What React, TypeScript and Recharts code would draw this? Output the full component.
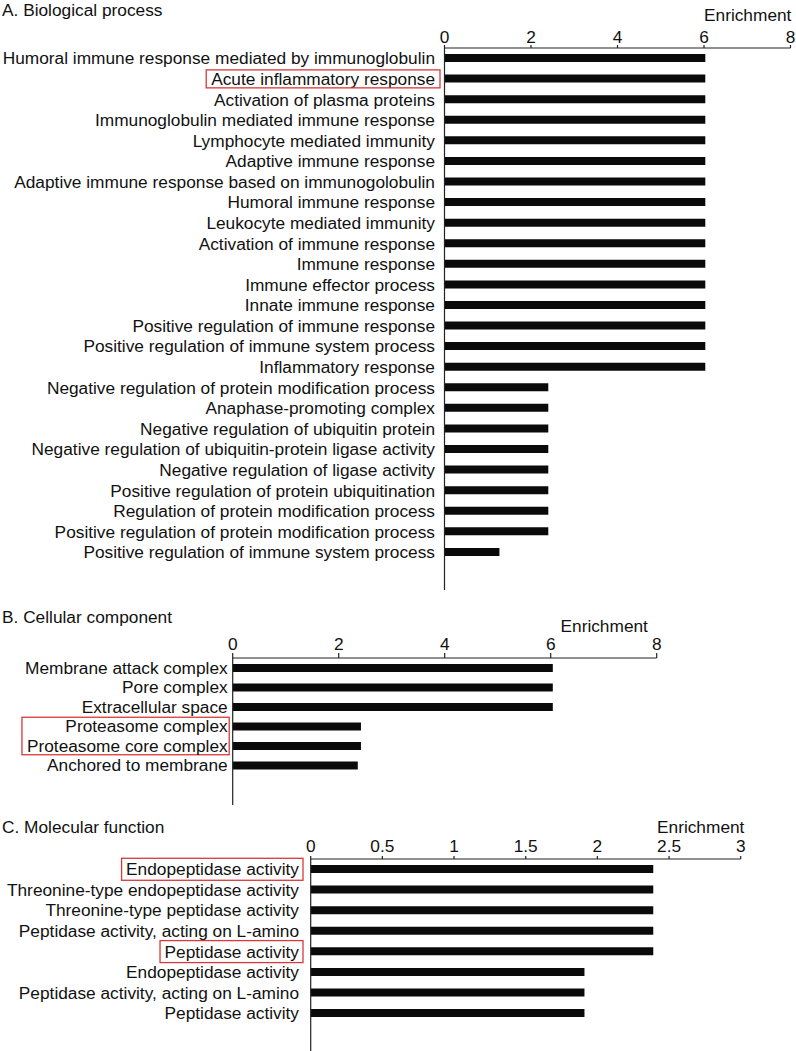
import React from "react";
import { BarChart, Bar, XAxis, YAxis } from "recharts";

const bioLabels = [
  "Humoral immune response mediated by immunoglobulin",
  "Acute inflammatory response",
  "Activation of plasma proteins",
  "Immunoglobulin mediated immune response",
  "Lymphocyte mediated immunity",
  "Adaptive immune response",
  "Adaptive immune response based on immunogolobulin",
  "Humoral immune response",
  "Leukocyte mediated immunity",
  "Activation of immune response",
  "Immune response",
  "Immune effector process",
  "Innate immune response",
  "Positive regulation of immune response",
  "Positive regulation of immune system process",
  "Inflammatory response",
  "Negative regulation of protein modification process",
  "Anaphase-promoting complex",
  "Negative regulation of ubiquitin protein",
  "Negative regulation of ubiquitin-protein ligase activity",
  "Negative regulation of ligase activity",
  "Positive regulation of protein ubiquitination",
  "Regulation of protein modification process",
  "Positive regulation of protein modification process",
  "Positive regulation of immune system process",
];
const bioValues = [
  6.03, 6.03, 6.03, 6.03, 6.03, 6.03, 6.03, 6.03, 6.03, 6.03, 6.03, 6.03, 6.03,
  6.03, 6.03, 6.03, 2.4, 2.4, 2.4, 2.4, 2.4, 2.4, 2.4, 2.4, 1.27,
];
const bioTicks = [0, 2, 4, 6, 8];

const cellLabels = [
  "Membrane attack complex",
  "Pore complex",
  "Extracellular space",
  "Proteasome complex",
  "Proteasome core complex",
  "Anchored to membrane",
];
const cellValues = [6.04, 6.04, 6.04, 2.42, 2.42, 2.36];
const cellTicks = [0, 2, 4, 6, 8];

const molLabels = [
  "Endopeptidase activity",
  "Threonine-type endopeptidase activity",
  "Threonine-type peptidase activity",
  "Peptidase activity, acting on L-amino",
  "Peptidase activity",
  "Endopeptidase activity",
  "Peptidase activity, acting on L-amino",
  "Peptidase activity",
];
const molValues = [2.39, 2.39, 2.39, 2.39, 2.39, 1.91, 1.91, 1.91];
const molTicks = [0, 0.5, 1, 1.5, 2, 2.5, 3];

// highlighted label groups (index ranges), drawn as red boxes
const bioMarked = [[1, 1]];
const cellMarked = [[3, 4]];
const molMarked = [[0, 0], [4, 4]];

const FONT = '"Liberation Sans", Arial, Helvetica, sans-serif';
const FS = 17.3;

let ctx: CanvasRenderingContext2D | null = null;
function textWidth(t: string) {
  if (!ctx) ctx = document.createElement("canvas").getContext("2d");
  if (!ctx) return t.length * 8.5;
  ctx.font = `${FS}px ${FONT}`;
  return ctx.measureText(t).width;
}

function LabelTick(props: any) {
  const { x, y, payload, labels, marked, step, boxH, padL, padR } = props;
  const idx = payload.index;
  const g = marked.find((m: number[]) => m[0] === idx);
  let box = null;
  if (g) {
    const w = Math.max(...labels.slice(g[0], g[1] + 1).map(textWidth));
    box = (
      <rect
        x={x - w - padL}
        y={y - boxH / 2}
        width={w + padL + padR}
        height={(g[1] - g[0]) * step + boxH}
        fill="none"
        stroke="#d8393b"
        strokeWidth={1.3}
      />
    );
  }
  return (
    <g>
      <text x={x} y={y} dy="0.35em" textAnchor="end" fill="#111" fontSize={FS}>
        {payload.value}
      </text>
      {box}
    </g>
  );
}

type PanelProps = {
  labels: string[];
  values: number[];
  ticks: number[];
  marked: number[][];
  top: number;
  width: number;
  height: number;
  marginTop: number;
  axisLeft: number;
  plotRight: number;
  padBottom: number;
  labelGap: number;
  tickSize: number;
  tickGap: number;
  boxH: number;
  padL: number;
  padR: number;
};

function Panel(p: PanelProps) {
  const data = p.labels.map((name, i) => ({ name, value: p.values[i] }));
  const xh = 30;
  const step = (p.height - p.marginTop - xh - p.padBottom) / p.labels.length;
  return (
    <div style={{ position: "absolute", left: 0, top: p.top }}>
      <BarChart
        layout="vertical"
        width={p.width}
        height={p.height}
        data={data}
        margin={{ top: p.marginTop, right: p.width - p.plotRight, left: 0, bottom: 0 }}
        barCategoryGap={0}
      >
        <XAxis
          type="number"
          orientation="top"
          domain={[p.ticks[0], p.ticks[p.ticks.length - 1]]}
          ticks={p.ticks}
          height={xh}
          axisLine={{ stroke: "#222", strokeWidth: 1.2 }}
          tickLine={{ stroke: "#222", strokeWidth: 1.2 }}
          tickSize={p.tickSize}
          tickMargin={p.tickGap}
          tick={{ fill: "#111", fontSize: FS }}
          interval={0}
        />
        <YAxis
          type="category"
          dataKey="name"
          width={p.axisLeft}
          axisLine={{ stroke: "#222", strokeWidth: 1.2 }}
          tickLine={false}
          tickSize={0}
          tickMargin={p.labelGap}
          interval={0}
          padding={{ top: 0, bottom: p.padBottom }}
          tick={(tp: any) => (
            <LabelTick
              {...tp}
              labels={p.labels}
              marked={p.marked}
              step={step}
              boxH={p.boxH}
              padL={p.padL}
              padR={p.padR}
            />
          )}
        />
        <Bar dataKey="value" fill="#0a0a0a" barSize={8} isAnimationActive={false} />
      </BarChart>
    </div>
  );
}

// text placed by its vertical centre
const txt = (left: number, cy: number, s: string) => (
  <div
    style={{
      position: "absolute",
      left,
      top: cy - 8,
      lineHeight: "16px",
      height: 16,
      fontSize: FS,
      whiteSpace: "nowrap",
      color: "#111",
    }}
  >
    {s}
  </div>
);

export default function App() {
  return (
    <div
      style={{
        position: "absolute",
        left: 0,
        top: 0,
        width: 796,
        height: 1051,
        background: "#fff",
        fontFamily: FONT,
        overflow: "hidden",
      }}
    >
      <Panel
        labels={bioLabels}
        values={bioValues}
        ticks={bioTicks}
        marked={bioMarked}
        top={0}
        width={796}
        height={590}
        marginTop={18}
        axisLeft={444.5}
        plotRight={790.5}
        padBottom={27.5}
        labelGap={9.5}
        tickSize={3}
        tickGap={2}
        boxH={18}
        padL={5}
        padR={5}
      />
      <Panel
        labels={cellLabels}
        values={cellValues}
        ticks={cellTicks}
        marked={cellMarked}
        top={600}
        width={700}
        height={205}
        marginTop={28}
        axisLeft={232.7}
        plotRight={656.7}
        padBottom={30}
        labelGap={5}
        tickSize={5}
        tickGap={3}
        boxH={18}
        padL={5}
        padR={1.5}
      />
      <Panel
        labels={molLabels}
        values={molValues}
        ticks={molTicks}
        marked={molMarked}
        top={790}
        width={796}
        height={261}
        marginTop={39}
        axisLeft={310.7}
        plotRight={740.7}
        padBottom={27.4}
        labelGap={11.7}
        tickSize={3}
        tickGap={4.5}
        boxH={22}
        padL={4.5}
        padR={4}
      />
      {txt(2, 10, "A. Biological process")}
      {txt(704, 15, "Enrichment")}
      {txt(2, 617, "B. Cellular component")}
      {txt(560.5, 625.5, "Enrichment")}
      {txt(2, 827, "C. Molecular function")}
      {txt(657, 827, "Enrichment")}
    </div>
  );
}
